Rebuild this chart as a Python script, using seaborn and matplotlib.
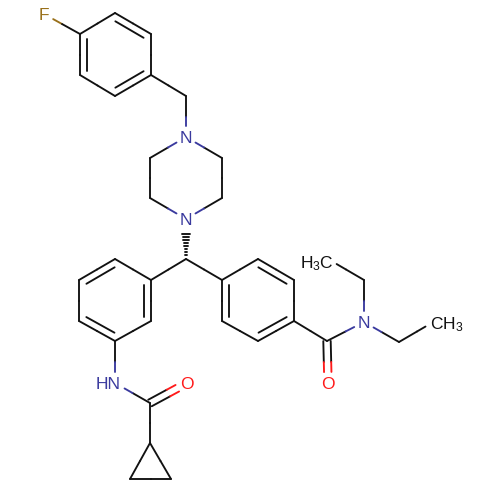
import numpy as np
import pandas as pd
import matplotlib
matplotlib.use("Agg")
import matplotlib.pyplot as plt
import seaborn as sns

# atoms (pixels)
atom_x = [44, 80, 115, 151, 151, 115, 80, 186, 186, 222, 222, 186, 150, 150, 186,
          151, 151, 115, 79, 79, 115, 222, 222, 258, 294, 294, 258,
          115, 150, 187, 150, 130, 171, 327, 328, 364, 364, 328, 399, 435]
atom_y = [14, 34, 13, 34, 75, 96, 75, 96, 137, 158, 198, 219, 198, 158, 259,
          280, 321, 341, 321, 280, 259, 280, 321, 341, 321, 280, 259,
          383, 403, 383, 443, 479, 479, 341, 383, 322, 280, 259, 342, 321]
atom_element = ["F", "C", "C", "C", "C", "C", "C", "C", "N", "C", "C", "N", "C", "C", "C",
                "C", "C", "C", "C", "C", "C", "C", "C", "C", "C", "C", "C",
                "N", "C", "O", "C", "C", "C", "C", "O", "N", "C", "C", "C", "C"]

single_bonds = [(0, 1), (1, 2), (3, 4), (5, 6), (4, 7), (7, 8), (8, 9), (9, 10), (10, 11),
                (11, 12), (12, 13), (13, 8), (14, 15), (14, 21), (16, 17), (18, 19), (20, 15),
                (22, 23), (24, 25), (26, 21), (17, 27), (27, 28), (28, 30), (30, 31), (31, 32),
                (32, 30), (24, 33), (33, 35), (35, 36), (36, 37), (35, 38), (38, 39)]
# aromatic bonds that carry an inner line, with the ring they belong to
ring_a = [1, 2, 3, 4, 5, 6]
ring_b = [15, 16, 17, 18, 19, 20]
ring_c = [21, 22, 23, 24, 25, 26]
ring_bonds = [(1, 6, ring_a), (2, 3, ring_a), (4, 5, ring_a),
              (15, 16, ring_b), (20, 19, ring_b), (18, 17, ring_b),
              (21, 22, ring_c), (26, 25, ring_c), (24, 23, ring_c)]
carbonyl_bonds = [(28, 29), (33, 34)]
hash_bond = (14, 11)

element_colours = {"C": "#111111", "N": "#3a3a9e", "O": "#ff1a1a", "F": "#99701a"}
label_clearance = {"N": 11, "O": 11, "F": 10.5}
methyl_clearance = {37: 10, 39: 11}

atoms = np.column_stack([atom_x, atom_y]).astype(float)
rows = []


def add_segment(p, q, colour):
    seg = len(rows)
    rows.append({"seg": seg, "x": p[0], "y": p[1], "colour": colour})
    rows.append({"seg": seg, "x": q[0], "y": q[1], "colour": colour})


def clearance(i):
    return methyl_clearance.get(i, label_clearance.get(atom_element[i], 0))


def add_bond(i, j, off=np.zeros(2)):
    # half of the bond in each atom's colour, with a gap around the labels
    p, q = atoms[i], atoms[j]
    u = (q - p) / np.linalg.norm(q - p)
    mid = (p + q) / 2
    ci, cj = atom_element[i], atom_element[j]
    start = p + u * clearance(i)
    end = q - u * clearance(j)
    add_segment(start + off, mid + off, element_colours[ci])
    add_segment(mid + off, end + off, element_colours[cj])


for i, j in single_bonds:
    add_bond(i, j)

for i, j, ring in ring_bonds:
    add_bond(i, j)
    p, q = atoms[i], atoms[j]
    centre = atoms[ring].mean(axis=0)
    u = (q - p) / np.linalg.norm(q - p)
    n = np.array([-u[1], u[0]])
    if np.dot(n, centre - (p + q) / 2) < 0:
        n = -n
    add_segment(p + n * 7 + u * 4.5, q + n * 7 - u * 4.5, element_colours["C"])

for i, j in carbonyl_bonds:
    p, q = atoms[i], atoms[j]
    u = (q - p) / np.linalg.norm(q - p)
    n = np.array([-u[1], u[0]])
    add_bond(i, j, n * 3.7)
    add_bond(i, j, -n * 3.7)

# hashed wedge, narrow at the stereo centre
p, q = atoms[hash_bond[0]], atoms[hash_bond[1]]
u = (q - p) / np.linalg.norm(q - p)
n = np.array([-u[1], u[0]])
for d in np.arange(1.5, 28, 3.0):
    w = d * 0.14
    add_segment(p + u * d + n * w, p + u * d - n * w, "#111111")

segments = pd.DataFrame(rows)

sns.set_theme(style="white")
plt.rcParams["font.family"] = ["Liberation Sans", "DejaVu Sans"]
plt.rcParams["mathtext.default"] = "regular"

fig, ax = plt.subplots(figsize=(5, 5), dpi=100)
fig.subplots_adjust(left=0, right=1, bottom=0, top=1)
palette = {c: c for c in segments["colour"].unique()}
sns.lineplot(data=segments, x="x", y="y", units="seg", hue="colour", palette=palette,
             estimator=None, sort=False, legend=False, linewidth=1.35, ax=ax,
             solid_capstyle="round")
ax.set_xlim(0, 500)
ax.set_ylim(500, 0)
ax.axis("off")

font = dict(fontsize=12.5, va="center_baseline")
for idx, el in enumerate(atom_element):
    if el in ("F", "O"):
        ax.text(atoms[idx, 0], atoms[idx, 1], el, color=element_colours[el], ha="center", **font)
    elif el == "N" and idx != 27:
        ax.text(atoms[idx, 0], atoms[idx, 1], "N", color=element_colours["N"], ha="center", **font)
ax.text(atoms[27, 0] + 6, atoms[27, 1], "HN", color=element_colours["N"], ha="right", **font)
ax.text(atoms[37, 0] + 6, atoms[37, 1] + 2, "H$_3$C", color="#111111", ha="right", **font)
ax.text(atoms[39, 0] - 5, atoms[39, 1] + 1, "CH$_3$", color="#111111", ha="left", **font)

fig.savefig("out.png", dpi=100)
